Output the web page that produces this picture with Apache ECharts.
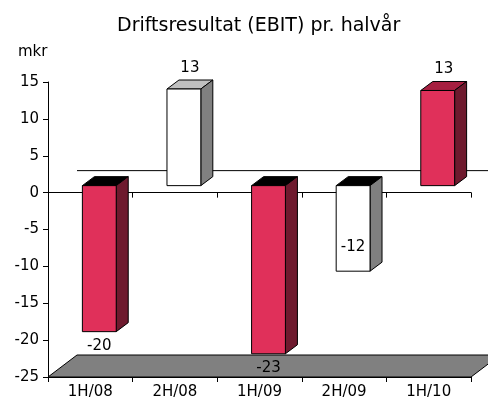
<!DOCTYPE html>
<html>
<head>
<meta charset="utf-8">
<script src="https://cdn.jsdelivr.net/npm/echarts@6/dist/echarts.min.js"></script>
<style>html,body{margin:0;padding:0;background:#fff;}#c{width:488px;height:403px;}</style>
</head>
<body>
<div id="c"></div>
<script>
// ---- data ----
const categories = ['1H/08', '2H/08', '1H/09', '2H/09', '1H/10'];
const values = [-19.8, 13.1, -22.8, -11.6, 12.9];
const barKind = ['red', 'white', 'red', 'white', 'red'];
const labelPlacement = ['below', 'above', 'below', 'inside', 'above'];
const yMin = -25, yMax = 15, yStep = 5;
const titleText = 'Driftsresultat (EBIT) pr. halvår';
const unitText = 'mkr';

// ---- styles ----
const FONT = 'DejaVu Sans';
const palette = {
  red:   { front: '#e0305a', side: '#6e1a2e', topPos: '#a61f40', topNeg: '#000000' },
  white: { front: '#ffffff', side: '#808080', topPos: '#c0c0c0', topNeg: '#000000' }
};
const DX = 9, DY = -7;        // bar plane offset from front
const DEPX = 12, DEPY = -9;   // bar depth
const WALLX = 29, WALLY = -22; // full chart depth

const chart = echarts.init(document.getElementById('c'), null, { renderer: 'canvas' });

function renderBar(params, api) {
  const i = api.value(0), v = api.value(1);
  const p0 = api.coord([i, 0]), pv = api.coord([i, v]);
  const band = api.size([1, 0])[0];
  const w = band * 0.4;
  const x1 = p0[0] - w / 2 + DX, x2 = x1 + w;
  const yTop = Math.min(p0[1], pv[1]) + DY;
  const yBot = Math.max(p0[1], pv[1]) + DY;
  const c = palette[barKind[params.dataIndex]];
  const stroke = { stroke: '#000', lineWidth: 1 };
  const children = [
    { type: 'polygon', shape: { points: [[x1, yTop], [x2, yTop], [x2 + DEPX, yTop + DEPY], [x1 + DEPX, yTop + DEPY]] },
      style: Object.assign({ fill: v >= 0 ? c.topPos : c.topNeg }, stroke) },
    { type: 'polygon', shape: { points: [[x2, yTop], [x2 + DEPX, yTop + DEPY], [x2 + DEPX, yBot + DEPY], [x2, yBot]] },
      style: Object.assign({ fill: c.side }, stroke) },
    { type: 'rect', shape: { x: x1, y: yTop, width: w, height: yBot - yTop },
      style: Object.assign({ fill: c.front }, stroke) }
  ];
  const place = labelPlacement[params.dataIndex];
  let lx = (x1 + x2) / 2, ly;
  if (place === 'above') { lx += 6; ly = yTop + DEPY - 12; }
  else if (place === 'below') { ly = yBot + 14; }
  else { ly = yBot - 24; }
  children.push({ type: 'text', style: { text: String(Math.round(v)), x: lx, y: ly, align: 'center', verticalAlign: 'middle',
    fontFamily: FONT, fontSize: 15, fill: '#000' } });
  return { type: 'group', children: children };
}

function renderFloor(params, api) {
  const cs = params.coordSys;
  const x0 = cs.x, x1 = cs.x + cs.width, yB = cs.y + cs.height;
  const yZero = api.coord([0, 0])[1];
  return { type: 'group', children: [
    { type: 'polygon', shape: { points: [[x0, yB], [x1, yB], [x1 + WALLX, yB + WALLY], [x0 + WALLX, yB + WALLY]] },
      style: { fill: '#808080', stroke: '#000', lineWidth: 1 } },
    { type: 'line', shape: { x1: x0 + WALLX, y1: yZero + WALLY, x2: x1 + WALLX, y2: yZero + WALLY },
      style: { stroke: '#000', lineWidth: 1 } }
  ] };
}

const axisText = { color: '#000', fontFamily: FONT, fontSize: 15 };
chart.setOption({
  animation: false,
  backgroundColor: '#fff',
  title: [
    { text: titleText, left: 112, top: 12, textStyle: { color: '#000', fontFamily: FONT, fontSize: 19, fontWeight: 'normal' } },
    { text: unitText, left: 13, top: 40, textStyle: { color: '#000', fontFamily: FONT, fontSize: 15, fontWeight: 'normal' } }
  ],
  grid: { left: 48, right: 17, top: 82, bottom: 26, containLabel: false },
  xAxis: [
    { type: 'category', data: categories, position: 'bottom',
      axisLine: { onZero: false, lineStyle: { color: '#000', width: 1 } },
      axisTick: { show: true, length: 5, lineStyle: { color: '#000' } },
      axisLabel: Object.assign({ margin: 8, interval: 0 }, axisText),
      splitLine: { show: false } },
    { type: 'category', data: categories, position: 'bottom',
      axisLine: { onZero: true, lineStyle: { color: '#000', width: 1 } },
      axisTick: { show: true, length: 5, lineStyle: { color: '#000' } },
      axisLabel: { show: false },
      splitLine: { show: false } }
  ],
  yAxis: {
    type: 'value', min: yMin, max: yMax, interval: yStep,
    axisLine: { show: true, lineStyle: { color: '#000', width: 1 } },
    axisTick: { show: true, length: 5, lineStyle: { color: '#000' } },
    axisLabel: Object.assign({ margin: 9 }, axisText),
    splitLine: { show: false }
  },
  series: [
    { type: 'custom', xAxisIndex: 0, z: 1, renderItem: renderFloor, data: [[0, 0]], silent: true },
    { type: 'custom', xAxisIndex: 0, z: 3, renderItem: renderBar,
      data: values.map((v, i) => [i, v]), silent: true }
  ]
});
</script>
</body>
</html>
